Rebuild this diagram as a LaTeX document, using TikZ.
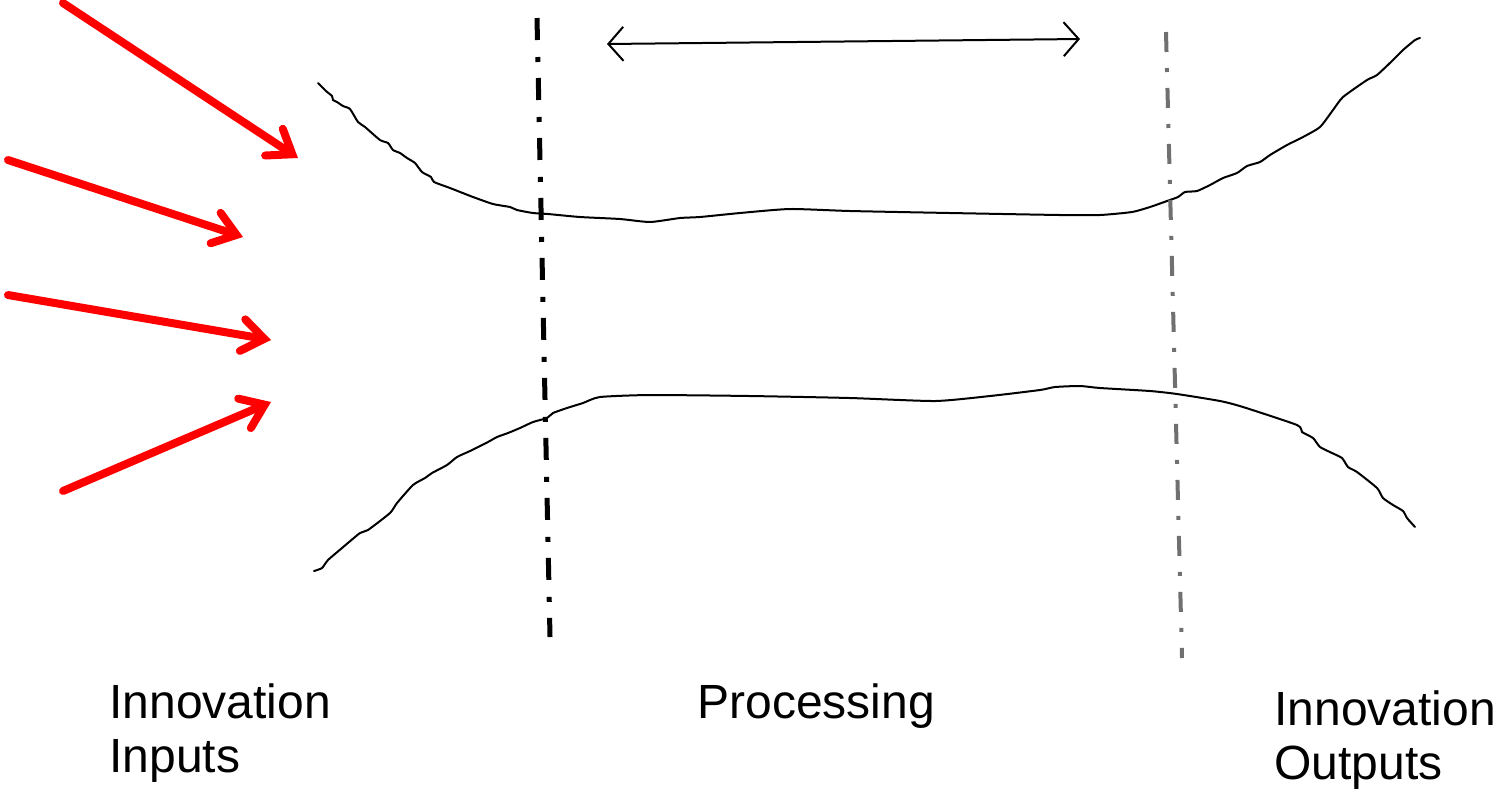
\documentclass[tikz,border=0pt]{standalone}
\usepackage{fontspec}
\setmainfont{Liberation Sans}
\usetikzlibrary{arrows.meta}
\definecolor{inred}{RGB}{255,0,0}
\definecolor{outgrey}{RGB}{112,112,112}
\tikzset{
  inarrow/.style={draw=inred, line width=4pt, line cap=round,
    -{Straight Barb[length=11pt,width=16pt,line cap=round]}},
  spanarrow/.style={draw=black, line width=1pt,
    {Straight Barb[length=7.5pt,width=17pt]}-{Straight Barb[length=7.5pt,width=17pt]}},
  wall/.style={draw=black, line width=1pt, line join=round, line cap=round},
  blackdash/.style={draw=black, line width=2.5pt,
    dash pattern=on 11pt off 8.5pt on 2.5pt off 8pt},
  greydash/.style={draw=outgrey, line width=2pt,
    dash pattern=on 10pt off 8pt on 2pt off 8pt},
  label/.style={inner sep=0pt, anchor=north west, align=left,
    font=\fontsize{24}{27}\selectfont}
}
\begin{document}
\begin{tikzpicture}[x=0.5pt, y=-0.5pt]
  \useasboundingbox (0,0) rectangle (1498,789);

  % incoming red arrows
  \coordinate (a1s) at (63,3);    \coordinate (a1e) at (298,158);
  \coordinate (a2s) at (8,160);   \coordinate (a2e) at (243,237);
  \coordinate (a3s) at (8,295);   \coordinate (a3e) at (271,340);
  \coordinate (a4s) at (63,491);  \coordinate (a4e) at (271,402);
  \draw[inarrow] (a1s) -- (a1e);
  \draw[inarrow] (a2s) -- (a2e);
  \draw[inarrow] (a3s) -- (a3e);
  \draw[inarrow] (a4s) -- (a4e);

  % upper wall of the channel
  \draw[wall] plot[smooth, tension=0.35] coordinates {
    (318,83) (326,91) (332,96) (333,100) (337,102) (343,106) (350,109)
    (358,122) (365,127) (380,140) (388,143) (393,150) (400,153) (407,158)
    (415,163) (422,172) (431,177) (434,182) (450,188) (473,197) (493,204)
    (510,207) (517,210) (533,213) (548,214) (580,217) (620,219) (650,222)
    (680,218) (700,217) (740,213) (790,209) (850,211) (950,213) (1060,215)
    (1100,215) (1132,212) (1150,207) (1167,201) (1178,197) (1185,192)
    (1197,191) (1210,185) (1223,178) (1237,173) (1247,166) (1260,162)
    (1270,155) (1287,145) (1303,137) (1320,127) (1333,110) (1343,97)
    (1367,80) (1377,75) (1393,60) (1403,50) (1415,40) (1420,38)};

  % lower wall of the channel
  \draw[wall] plot[smooth, tension=0.35] coordinates {
    (314,571) (322,568) (328,560) (342,548) (360,533) (368,530) (390,513)
    (397,503) (413,485) (425,478) (432,473) (447,465) (457,457) (470,451)
    (488,442) (497,437) (508,433) (520,428) (533,422) (547,418) (553,413)
    (567,408) (583,403) (600,397) (650,395) (750,396) (850,398) (935,401)
    (990,396) (1040,390) (1055,387) (1080,386) (1100,388) (1150,391)
    (1177,394) (1220,401) (1243,407) (1297,425) (1302,432) (1313,438)
    (1320,447) (1332,453) (1342,458) (1348,467) (1357,472) (1377,488)
    (1383,498) (1393,505) (1403,511) (1407,518) (1415,527)};

  % stage boundaries
  \coordinate (b1t) at (537,18);   \coordinate (b1b) at (550,637);
  \coordinate (b2t) at (1166,32);  \coordinate (b2b) at (1182,658);
  \draw[blackdash] (b1t) -- (b1b);
  \draw[greydash] (b2t) -- (b2b);

  % span of the processing stage
  \coordinate (spl) at (607,44);   \coordinate (spr) at (1080,39);
  \draw[spanarrow] (spl) -- (spr);

  % stage labels
  \node[label] (inputs) at (109,683) {Innovation\\Inputs};
  \node[label] (processing) at (697,683) {Processing};
  \node[label] (outputs) at (1274,690) {Innovation\\Outputs};
\end{tikzpicture}
\end{document}
